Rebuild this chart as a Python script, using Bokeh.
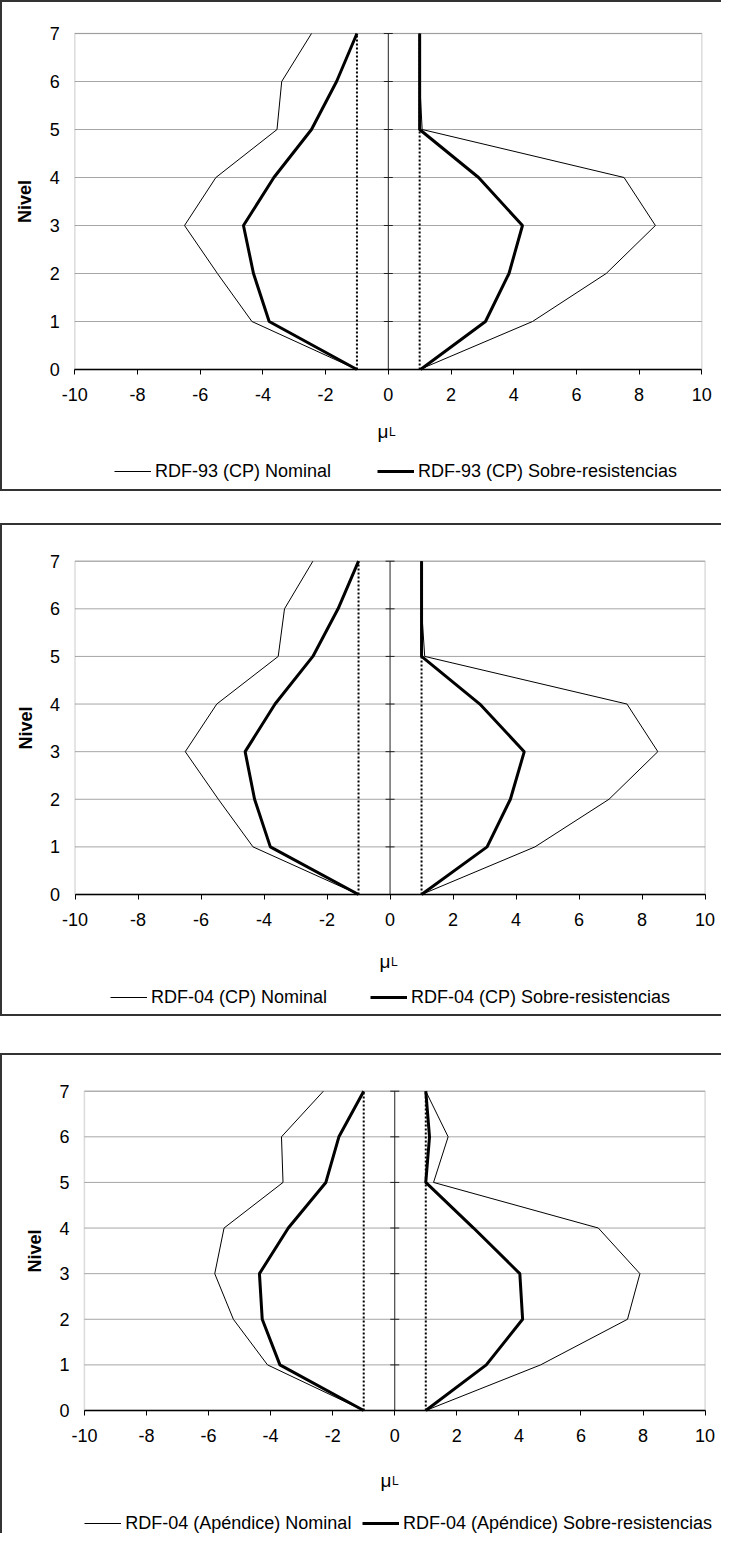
from bokeh.plotting import figure
from bokeh.layouts import column
from bokeh.models import (Range1d, FixedTicker, Label, Legend, LegendItem, Spacer,
                          LinearAxis, BoxAnnotation)
from bokeh.embed import file_html
from bokeh.resources import INLINE

# ---------------- data ----------------
levels = [0, 1, 2, 3, 4, 5, 6, 7]
x_ticks = [-10, -8, -6, -4, -2, 0, 2, 4, 6, 8, 10]
limits = [-1, 1]

# RDF-93 (CP)
nom_neg_93 = [-1.0, -4.35, -5.45, -6.5, -5.5, -3.55, -3.4, -2.45]
sob_neg_93 = [-1.0, -3.8, -4.3, -4.62, -3.65, -2.45, -1.65, -1.0]
nom_pos_93 = [1.0, 4.6, 6.95, 8.52, 7.52, 1.08, 1.0, 1.0]
sob_pos_93 = [1.03, 3.1, 3.85, 4.28, 2.88, 1.0, 1.0, 1.0]

# RDF-04 (CP)
nom_neg_04 = [-1.0, -4.35, -5.45, -6.5, -5.5, -3.55, -3.35, -2.45]
sob_neg_04 = [-1.0, -3.8, -4.3, -4.6, -3.65, -2.45, -1.65, -1.0]
nom_pos_04 = [1.0, 4.6, 6.95, 8.5, 7.52, 1.1, 1.0, 1.0]
sob_pos_04 = [1.0, 3.08, 3.82, 4.26, 2.85, 1.0, 1.0, 1.0]

# RDF-04 (Apéndice)
nom_neg_ap = [-1.0, -4.1, -5.2, -5.8, -5.5, -3.6, -3.65, -2.3]
sob_neg_ap = [-1.0, -3.7, -4.27, -4.36, -3.43, -2.22, -1.8, -1.0]
nom_pos_ap = [1.0, 4.7, 7.5, 7.9, 6.56, 1.25, 1.72, 1.0]
sob_pos_ap = [1.0, 2.95, 4.12, 4.03, 2.54, 1.0, 1.12, 1.0]

labels_93 = ["RDF-93 (CP) Nominal", "RDF-93 (CP) Sobre-resistencias"]
labels_04 = ["RDF-04 (CP) Nominal", "RDF-04 (CP) Sobre-resistencias"]
labels_ap = ["RDF-04 (Apéndice) Nominal", "RDF-04 (Apéndice) Sobre-resistencias"]
x_title = ["μ", "L"]
y_title = "Nivel"

FONT = "Liberation Sans"
W = 721
BORDER = "2px solid #333333"


def make_panel(nom_neg, sob_neg, nom_pos, sob_pos, labels, H, L, R, T, B,
               border_bottom, mu_x, mu_y, leg_x1, leg_x2, leg_y):
    # pixel geometry of the plot area inside the canvas -> data ranges
    x0, x1 = x_ticks[0], x_ticks[-1]
    y0, y1 = levels[0], levels[-1]
    ppx = (R - L) / (x1 - x0)
    ppy = (B - T) / (y1 - y0)
    xr = Range1d(x0 - L / ppx, x1 + (W - R) / ppx)
    yr = Range1d(y0 - (H - B) / ppy, y1 + T / ppy)

    styles = {"border-top": BORDER, "border-left": BORDER}
    if border_bottom:
        styles["border-bottom"] = BORDER
    p = figure(width=W, height=H, output_backend="svg", toolbar_location=None,
               x_range=xr, y_range=yr, x_axis_location=None, y_axis_location=None,
               min_border=0, min_border_left=0, min_border_right=0,
               min_border_top=0, min_border_bottom=0, styles=styles)
    p.background_fill_color = "white"
    p.border_fill_color = "white"
    p.outline_line_color = None
    p.grid.visible = False

    # plot-area frame (grey) and horizontal grid lines
    p.add_layout(BoxAnnotation(left=x0, right=x1, bottom=y0, top=y1,
                               fill_color=None, fill_alpha=0,
                               line_color="#8c8c8c", line_width=1.5, level="underlay"))
    p.segment(x0=[x0] * len(levels), x1=[x1] * len(levels), y0=levels, y1=levels,
              line_color="#a6a6a6", line_width=1, level="underlay")

    # x axis drawn at level 0
    xa = LinearAxis(fixed_location=y0, bounds=(x0, x1),
                    ticker=FixedTicker(ticks=x_ticks))
    xa.major_label_overrides = {t: str(t) for t in x_ticks}
    xa.axis_line_color = "black"
    xa.axis_line_width = 1.5
    xa.major_tick_in = 0
    xa.major_tick_out = 5
    xa.major_tick_line_color = "black"
    xa.minor_tick_line_color = None
    xa.major_label_standoff = 13
    xa.major_label_text_font = FONT
    xa.major_label_text_font_size = "18px"
    xa.major_label_text_color = "black"
    p.add_layout(xa, "below")

    # y axis labels along the left edge of the plot area
    ya = LinearAxis(fixed_location=x0, bounds=(y0, y1),
                    ticker=FixedTicker(ticks=levels))
    ya.axis_line_color = None
    ya.major_tick_line_color = None
    ya.minor_tick_line_color = None
    ya.major_tick_in = 0
    ya.major_tick_out = 0
    ya.major_label_standoff = 15
    ya.major_label_text_font = FONT
    ya.major_label_text_font_size = "18px"
    ya.major_label_text_color = "black"
    ya.axis_label = y_title
    ya.axis_label_text_font = FONT
    ya.axis_label_text_font_size = "18px"
    ya.axis_label_text_font_style = "bold"
    ya.axis_label_text_color = "black"
    ya.axis_label_standoff = 11
    p.add_layout(ya, "left")

    # vertical axis line at x = 0 with cross ticks
    p.segment(x0=[0], x1=[0], y0=[y0], y1=[y1], line_color="#222222", line_width=1)
    p.scatter(x=[0] * len(levels), y=levels, marker="dash", size=9,
              line_color="#222222", line_width=1)

    # dotted limits at +-1
    p.segment(x0=limits, x1=limits, y0=[y0] * 2, y1=[y1] * 2,
              line_color="black", line_width=2, line_dash="2 2")

    # series
    r_nom = p.line(nom_neg, levels, line_color="black", line_width=1)
    p.line(nom_pos, levels, line_color="black", line_width=1)
    r_sob = p.line(sob_neg, levels, line_color="black", line_width=3)
    p.line(sob_pos, levels, line_color="black", line_width=3)

    # legends (one item each)
    for r, lab, lx in ((r_nom, labels[0], leg_x1), (r_sob, labels[1], leg_x2)):
        leg = Legend(items=[LegendItem(label=lab, renderers=[r])],
                     location=(lx, leg_y), padding=0, margin=0, spacing=0,
                     border_line_color=None, background_fill_alpha=0,
                     glyph_width=37, glyph_height=22, label_height=22,
                     label_standoff=4, label_text_font=FONT,
                     label_text_font_size="18px", label_text_color="black")
        p.add_layout(leg)

    # x axis title: mu with subscript L
    p.add_layout(Label(x=mu_x, y=mu_y, x_units="screen", y_units="screen",
                       text=x_title[0], text_font=FONT, text_font_size="19px",
                       text_align="left", text_baseline="alphabetic",
                       text_color="black"))
    p.add_layout(Label(x=mu_x + 11.5, y=mu_y, x_units="screen", y_units="screen",
                       text=x_title[1], text_font=FONT, text_font_size="12px",
                       text_align="left", text_baseline="alphabetic",
                       text_color="black"))
    return p


p1 = make_panel(nom_neg_93, sob_neg_93, nom_pos_93, sob_pos_93, labels_93,
                H=491, L=72.3, R=699.3, T=31, B=367, border_bottom=True,
                mu_x=375, mu_y=62, leg_x1=112, leg_x2=375, leg_y=11)
p2 = make_panel(nom_neg_04, sob_neg_04, nom_pos_04, sob_pos_04, labels_04,
                H=493, L=72.5, R=702.6, T=35.7, B=369, border_bottom=True,
                mu_x=377, mu_y=57, leg_x1=108, leg_x2=368, leg_y=10)
p3 = make_panel(nom_neg_ap, sob_neg_ap, nom_pos_ap, sob_pos_ap, labels_ap,
                H=480, L=81.9, R=702.6, T=35.7, B=355, border_bottom=False,
                mu_x=378, mu_y=55, leg_x1=82.3, leg_x2=360, leg_y=1)

layout = column(p1, Spacer(height=32), p2, Spacer(height=37), p3, spacing=0)
open("out.html", "w").write(file_html(layout, INLINE))
